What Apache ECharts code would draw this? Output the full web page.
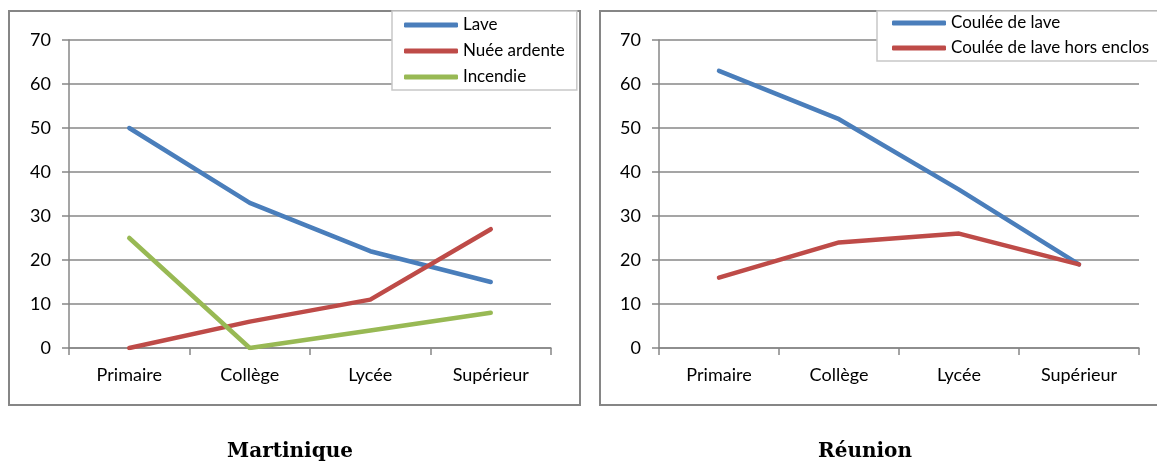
<!DOCTYPE html>
<html><head><meta charset="utf-8">
<script src="https://cdn.jsdelivr.net/npm/echarts@6/dist/echarts.min.js"></script>
<style>html,body{margin:0;padding:0;background:#fff}#c{width:1157px;height:463px}</style>
</head><body><div id="c"></div>
<script>
const categories = ['Primaire', 'Collège', 'Lycée', 'Supérieur'];
const yTicks = [0, 10, 20, 30, 40, 50, 60, 70];
const titleLeft = 'Martinique';
const titleRight = 'Réunion';
const lave = [50, 33, 22, 15];
const nueeArdente = [0, 6, 11, 27];
const incendie = [25, 0, 4, 8];
const couleeLave = [63, 52, 36, 19];
const couleeHorsEnclos = [16, 24, 26, 19];

const gridColor = '#878787';
const labelFont = { color: '#000', fontFamily: 'Lato', fontSize: 18 };

function yAxis(gi) {
  return {
    type: 'value', gridIndex: gi, min: yTicks[0], max: yTicks[yTicks.length - 1], interval: 10,
    axisLine: { show: true, lineStyle: { color: gridColor, width: 1.5 } },
    axisTick: { show: true, length: 7, lineStyle: { color: gridColor, width: 1.5 } },
    axisLabel: Object.assign({ margin: 18 }, labelFont),
    splitLine: { show: true, lineStyle: { color: gridColor, width: 1.5 } }
  };
}
function xAxis(gi) {
  return {
    type: 'category', gridIndex: gi, data: categories, boundaryGap: true,
    axisLine: { show: true, lineStyle: { color: gridColor, width: 1.5 } },
    axisTick: { show: true, length: 7, interval: 0, lineStyle: { color: gridColor, width: 1.5 } },
    axisLabel: Object.assign({ margin: 18, interval: 0 }, labelFont)
  };
}
function line(name, data, color, gi) {
  return {
    type: 'line', name, data, xAxisIndex: gi, yAxisIndex: gi,
    symbol: 'none', color, lineStyle: { color, width: 4.5, cap: 'round', join: 'round' }
  };
}
const legendBase = {
  orient: 'vertical', icon: 'roundRect', itemWidth: 54, itemHeight: 5,
  backgroundColor: '#fff', borderColor: '#c8c8c8', borderWidth: 1.5, borderRadius: 0,
  textStyle: { color: '#000', fontFamily: 'Lato', fontSize: 17, lineHeight: 18 },
  itemGap: 8, itemTextGap: 4
};

const chart = echarts.init(document.getElementById('c'), null, { renderer: 'canvas' });
chart.setOption({
  animation: false,
  backgroundColor: '#fff',
  graphic: [
    { type: 'rect', shape: { x: 9, y: 11, width: 571, height: 394 }, style: { fill: 'none', stroke: '#868686', lineWidth: 2 }, z: -1 },
    { type: 'rect', shape: { x: 600, y: 11, width: 600, height: 394 }, style: { fill: 'none', stroke: '#868686', lineWidth: 2 }, z: -1 }
  ],
  title: [
    { text: titleLeft, left: 285, top: 437, textAlign: 'center', textStyle: { fontFamily: 'DejaVu Serif', fontWeight: 'bold', fontSize: 20, color: '#000' } },
    { text: titleRight, left: 860, top: 437, textAlign: 'center', textStyle: { fontFamily: 'DejaVu Serif', fontWeight: 'bold', fontSize: 20, color: '#000' } }
  ],
  grid: [
    { left: 69, right: 1157 - 551, top: 40, bottom: 463 - 348 },
    { left: 659, right: 1157 - 1139, top: 40, bottom: 463 - 348 }
  ],
  xAxis: [xAxis(0), xAxis(1)],
  yAxis: [yAxis(0), yAxis(1)],
  legend: [
    Object.assign({}, legendBase, { left: 392, top: 11, padding: [5, 12, 4, 12], data: ['Lave', 'Nuée ardente', 'Incendie'] }),
    Object.assign({}, legendBase, { left: 877, top: 11, padding: [3, 15, 4, 15], itemGap: 7, data: ['Coulée de lave', 'Coulée de lave hors enclos'] })
  ],
  series: [
    line('Lave', lave, '#4A7EBB', 0),
    line('Nuée ardente', nueeArdente, '#BE4B48', 0),
    line('Incendie', incendie, '#98B954', 0),
    line('Coulée de lave', couleeLave, '#4A7EBB', 1),
    line('Coulée de lave hors enclos', couleeHorsEnclos, '#BE4B48', 1)
  ]
});
</script></body></html>
